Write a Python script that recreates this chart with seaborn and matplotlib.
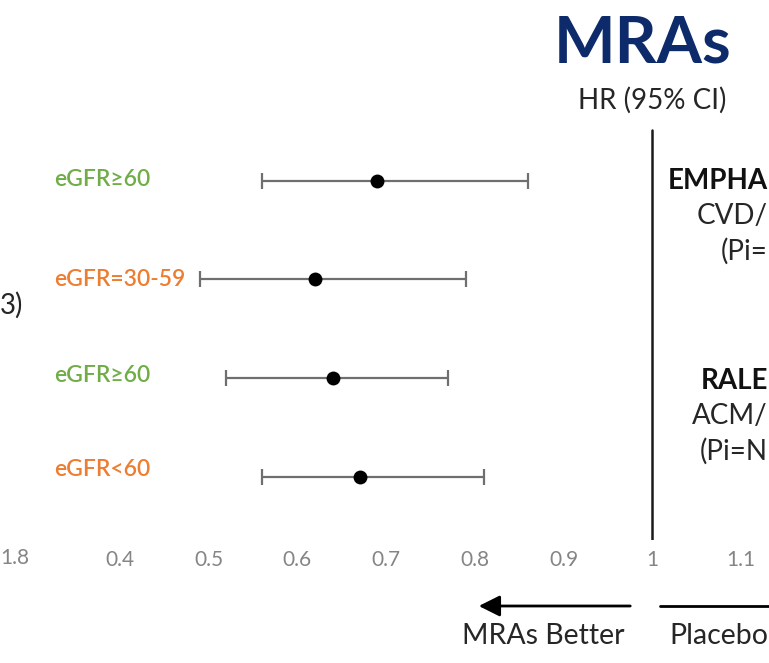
import matplotlib
matplotlib.use("Agg")
import matplotlib.pyplot as plt
import seaborn as sns
import pandas as pd

# ---- data ----
subgroups = ["eGFR\u226560", "eGFR=30-59", "eGFR\u226560", "eGFR<60"]
sub_colors = ["#70AD47", "#ED7D31", "#70AD47", "#ED7D31"]
hr = [0.69, 0.62, 0.64, 0.67]
ci_low = [0.56, 0.49, 0.52, 0.56]
ci_high = [0.86, 0.79, 0.77, 0.81]
xticks = [0.4, 0.5, 0.6, 0.7, 0.8, 0.9, 1.0, 1.1]
xtick_labels = ["0.4", "0.5", "0.6", "0.7", "0.8", "0.9", "1", "1.1"]

df = pd.DataFrame({"row": range(len(hr)), "label": subgroups, "hr": hr,
                   "lo": ci_low, "hi": ci_high})

sns.set_theme(style="white")
plt.rcParams["font.family"] = ["Lato", "DejaVu Sans"]

W, H = 769, 663
fig = plt.figure(figsize=(W / 100, H / 100), dpi=100)

def fx(px):
    return px / W

def fy(py):
    return 1 - py / H

# axes occupies pixel rows 0..540, full width
ax_bottom_px = 540
ax = fig.add_axes([0, fy(ax_bottom_px), 1, ax_bottom_px / H])

px_per_unit = (741 - 120) / 0.7
x_left = 0.4 - 120 / px_per_unit
x_right = 0.4 + (W - 120) / px_per_unit
ax.set_xlim(x_left, x_right)
row0_px, row_step = 180.5, 98.8
ax.set_ylim((ax_bottom_px - row0_px) / row_step, -row0_px / row_step)

# CI bars
ax.errorbar(df["hr"], df["row"], xerr=[df["hr"] - df["lo"], df["hi"] - df["hr"]],
            fmt="none", ecolor="#6f6f6f", elinewidth=1.6, capsize=5.5,
            capthick=1.6, zorder=2)
sns.scatterplot(data=df, x="hr", y="row", color="black", s=100,
                edgecolor="black", linewidth=0, ax=ax, zorder=3, legend=False)

# reference line at 1
top_frac = (ax_bottom_px - 130) / ax_bottom_px
ax.axvline(1.0, ymin=0, ymax=top_frac, color="#1a1a1a", lw=1.8, zorder=1)

ax.set_xticks(xticks)
ax.set_xticklabels(xtick_labels)
ax.tick_params(axis="x", length=0, pad=7, labelsize=15, labelcolor="#858585")
ax.set_yticks([])
ax.set_xlabel("")
ax.set_ylabel("")
for s in ax.spines.values():
    s.set_visible(False)
ax.patch.set_alpha(0)

# subgroup labels
label_y_px = [180, 279, 375, 469]
for lab, col, ypx in zip(subgroups, sub_colors, label_y_px):
    fig.text(fx(54), fy(ypx), lab, color=col, fontsize=16.5, ha="left",
             va="center", fontweight="semibold")

# titles
fig.text(fx(643), fy(44), "MRAs", color="#0D2A6B", fontsize=47,
         fontweight="bold", ha="center", va="center")
fig.text(fx(652), fy(100), "HR (95% CI)", color="#262626", fontsize=20,
         ha="center", va="center")

# right-side trial texts (cut at the right edge of the picture)
right_texts = [("EMPHA", 181, "bold"), ("CVD/", 216, "normal"),
               ("(Pi=", 251, "normal"), ("RALE", 381, "bold"),
               ("ACM/", 416, "normal"), ("(Pi=N", 451, "normal")]
for txt, ypx, wt in right_texts:
    fig.text(fx(768), fy(ypx), txt, fontsize=20, fontweight=wt,
             color="#111111" if wt == "bold" else "#262626",
             ha="right", va="center")

# cut-off bits from neighbouring panel
fig.text(fx(0), fy(305), "3)", fontsize=20, color="#262626", ha="left",
         va="center")
fig.text(fx(0), fy(558), "1.8", fontsize=15, color="#858585", ha="left",
         va="center")

# direction arrows
fig.add_artist(matplotlib.patches.FancyArrowPatch(
    (fx(633), fy(606)), (fx(476), fy(606)), transform=fig.transFigure,
    arrowstyle="-|>,head_length=8,head_width=4", mutation_scale=1.6,
    color="black", lw=2))
fig.add_artist(matplotlib.lines.Line2D([fx(660), fx(775)], [fy(606), fy(606)],
                                       transform=fig.transFigure,
                                       color="black", lw=2))
fig.text(fx(543), fy(636), "MRAs Better", fontsize=20.5, color="#262626",
         ha="center", va="center")
fig.text(fx(768), fy(636), "Placebo", fontsize=20.5, color="#262626",
         ha="right", va="center")

fig.savefig("out.png", dpi=100)
